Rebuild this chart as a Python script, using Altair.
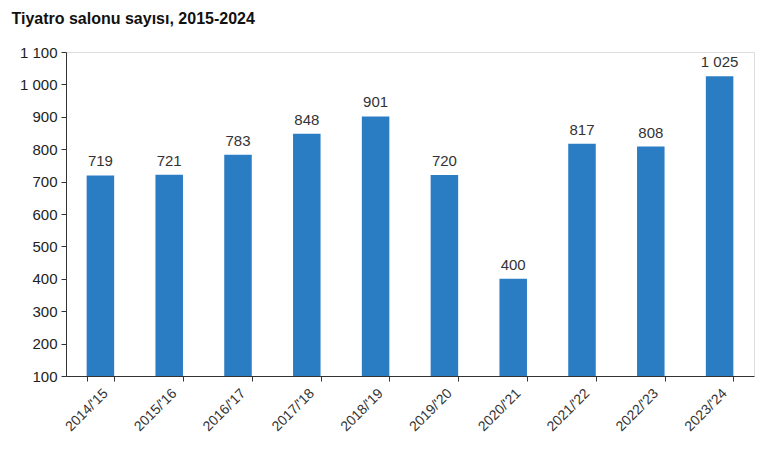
import altair as alt
import pandas as pd

seasons = ["2014/'15", "2015/'16", "2016/'17", "2017/'18", "2018/'19",
           "2019/'20", "2020/'21", "2021/'22", "2022/'23", "2023/'24"]
values = [719, 721, 783, 848, 901, 720, 400, 817, 808, 1025]
y_ticks = [100, 200, 300, 400, 500, 600, 700, 800, 900, 1000, 1100]

df = pd.DataFrame({"season": seasons, "value": values})
df["label"] = [f"{v:,}".replace(",", " ") for v in values]

x = alt.X("season:N", sort=seasons, title=None,
          scale=alt.Scale(paddingInner=0.6, paddingOuter=0.3),
          axis=alt.Axis(labelAngle=-45, labelAlign="right", labelBaseline="top",
                        tickBand="extent", labelFontSize=14, labelColor="#333333",
                        domainColor="#333333", tickColor="#333333", tickSize=5,
                        labelPadding=5, labelFont="Liberation Sans"))
y = alt.Y("value:Q", title=None,
          scale=alt.Scale(domain=[100, 1100], zero=False, nice=False),
          axis=alt.Axis(values=y_ticks, grid=False,
                        labelOverlap=False, labelFlush=False,
                        labelExpr="replace(format(datum.value, ','), ',', ' ')",
                        labelFontSize=15, labelColor="#222222", domainColor="#333333",
                        tickColor="#333333", tickSize=5, labelPadding=4,
                        labelFont="Liberation Sans"))

bars = alt.Chart(df).mark_bar(color="#2b7dc3").encode(x=x, y=y, y2=alt.datum(100))
text = alt.Chart(df).mark_text(dy=-14, fontSize=15, color="#333333",
                               font="Liberation Sans").encode(
    x=x, y=y, text="label:N")

chart = (bars + text).properties(
    width=688, height=324,
    title=alt.TitleParams("Tiyatro salonu sayısı, 2015-2024", anchor="start",
                          fontSize=16, fontWeight="bold", font="Liberation Sans",
                          color="#111111", offset=18, dx=-8),
).configure_view(stroke=None).configure(padding={"left": 3, "top": 3, "right": 2, "bottom": 5})

chart.save("out.html", embed_options={"renderer": "svg", "actions": False})
